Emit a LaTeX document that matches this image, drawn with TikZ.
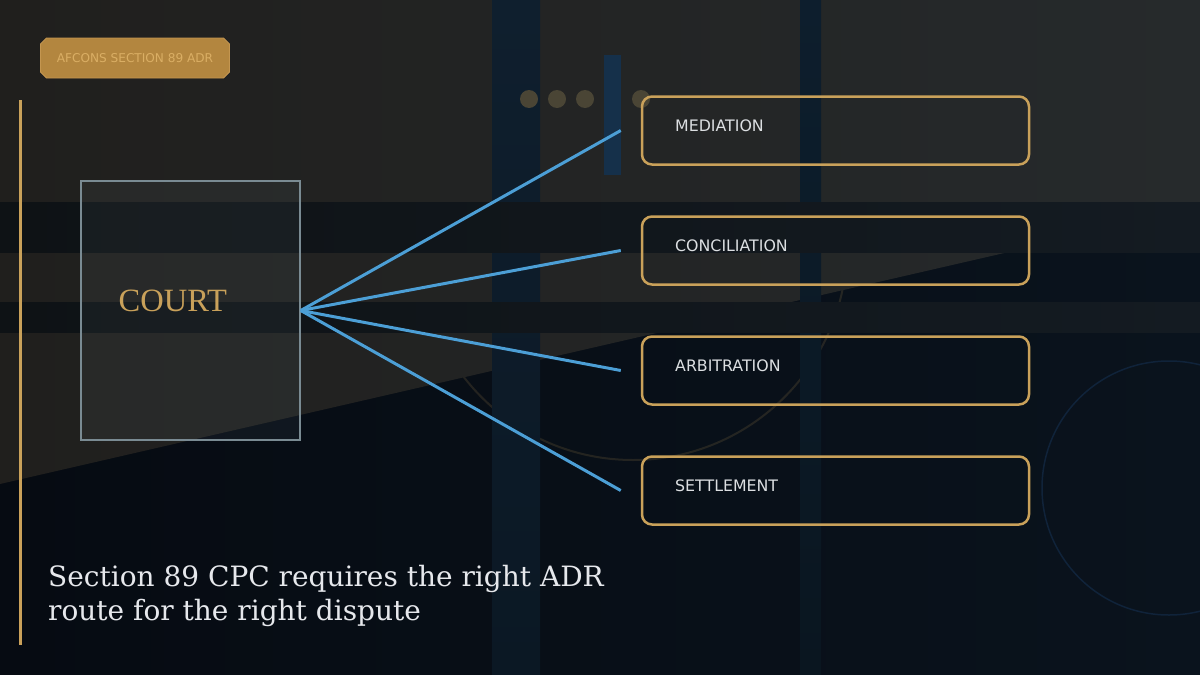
\documentclass[tikz,border=0pt]{standalone}
\usepackage{fontspec}
\setmainfont{DejaVu Serif}
\newfontfamily\dvsans{DejaVu Sans}
\newfontfamily\libserif{Liberation Serif}
\usetikzlibrary{shapes.misc}
\definecolor{gold}{HTML}{C9A15A}
\definecolor{badgefill}{HTML}{B3863F}
\definecolor{badgeedge}{HTML}{C49650}
\definecolor{badgetext}{HTML}{DAAE64}
\definecolor{connblue}{HTML}{4C9FD6}
\definecolor{courtedge}{HTML}{7A8B93}
\definecolor{courtfill}{HTML}{A8C0D0}
\definecolor{navyL}{HTML}{060B12}
\definecolor{navyR}{HTML}{0A131D}
\definecolor{greyL}{HTML}{201F1D}
\definecolor{greyR}{HTML}{262A2C}
\definecolor{bandL}{HTML}{0E1215}
\definecolor{bandR}{HTML}{141B22}
\definecolor{barTop}{HTML}{0F1F2E}
\definecolor{barBot}{HTML}{0B1824}
\definecolor{barTopB}{HTML}{0D1E2D}
\definecolor{barBotB}{HTML}{0A1620}
\definecolor{smallbarcol}{HTML}{15304A}
\definecolor{dotcol}{HTML}{4A4535}
\definecolor{ringblue}{HTML}{10233A}
\definecolor{captext}{HTML}{E6E8EC}
\definecolor{lbltext}{HTML}{DCDFE2}
\tikzset{
  badge/.style={chamfered rectangle, chamfered rectangle xsep=3pt, chamfered rectangle ysep=3pt,
    fill=badgefill, draw=badgeedge, line width=0.8pt, minimum width=189pt, minimum height=40pt,
    inner sep=0pt, text=badgetext, font=\dvsans\fontsize{12.1}{14}\selectfont},
  courtbox/.style={draw=courtedge, line width=1.5pt, fill=courtfill, fill opacity=0.06,
    minimum width=219pt, minimum height=259pt, inner sep=0pt},
  courtlbl/.style={text=gold, font=\libserif\fontsize{32.5}{36}\selectfont, inner sep=0pt, anchor=base west},
  optbox/.style={draw=gold, line width=2.5pt, rounded corners=10pt,
    minimum width=387pt, minimum height=68pt, inner sep=0pt},
  optlbl/.style={text=lbltext, font=\dvsans\fontsize{15.8}{18}\selectfont, inner sep=0pt, anchor=base west},
  conn/.style={draw=connblue, line width=3pt},
  caption/.style={text=captext, font=\fontsize{28}{34}\selectfont, align=left, inner sep=0pt},
  goldrule/.style={draw=gold, line width=3pt},
  bigring/.style={draw=gold, draw opacity=0.15, line width=2pt},
  smallring/.style={draw=ringblue, line width=1.5pt}
}
\begin{document}
\begin{tikzpicture}[x=1pt,y=-1pt]
\useasboundingbox (0,0) rectangle (1200,675);
% base background
\shade[left color=navyL, right color=navyR] (0,0) rectangle (1200,675);
% rings
\draw[bigring] (633,246) circle[radius=214];
\draw[smallring] (1169,488) circle[radius=127];
% warm grey plane
\shade[left color=greyL, right color=greyR] (0,0) -- (1200,0) -- (1200,208) -- (0,484) -- cycle;
% vertical bars
\shade[top color=barTop, bottom color=barBot] (492,0) rectangle (540,675);
\shade[top color=barTopB, bottom color=barBotB] (800,0) rectangle (821,675);
% horizontal bands
\shade[left color=bandL, right color=bandR] (0,202) rectangle (1200,252);
\shade[left color=bandL, right color=bandR] (0,302) rectangle (1200,332);
% small bar and dots
\fill[smallbarcol] (604,55) rectangle (621,175);
\foreach \x in {529,557,585,641} \fill[dotcol] (\x,99) circle[radius=9];
% gold rule
\coordinate (ruleTop) at (20,100);
\coordinate (ruleBot) at (20,645);
\draw[goldrule] (ruleTop) -- (ruleBot);
% badge
\node[badge] (badge) at (135,58) {AFCONS SECTION 89 ADR};
% court
\node[courtbox] (court) at (190.5,310.5) {};
\node[courtlbl] (courtlbl) at (118.5,311.5) {COURT};
% option boxes
\node[optbox] (med) at (835.5,130.5) {};
\node[optbox] (con) at (835.5,250.5) {};
\node[optbox] (arb) at (835.5,370.5) {};
\node[optbox] (set) at (835.5,490.5) {};
\node[optlbl] (medlbl) at (675,131.5) {MEDIATION};
\node[optlbl] (conlbl) at (675,251.5) {CONCILIATION};
\node[optlbl] (arblbl) at (675,371.5) {ARBITRATION};
\node[optlbl] (setlbl) at (675,491.5) {SETTLEMENT};
% connector ends
\coordinate (medEnd) at ([xshift=-20pt]med.west);
\coordinate (conEnd) at ([xshift=-20pt]con.west);
\coordinate (arbEnd) at ([xshift=-20pt]arb.west);
\coordinate (setEnd) at ([xshift=-20pt]set.west);
\draw[conn] (court.east) -- (medEnd);
\draw[conn] (court.east) -- (conEnd);
\draw[conn] (court.east) -- (arbEnd);
\draw[conn] (court.east) -- (setEnd);
% caption
\node[caption, anchor=base west] (caption) at (48,620) {Section 89 CPC requires the right ADR\\route for the right dispute};
\end{tikzpicture}
\end{document}
